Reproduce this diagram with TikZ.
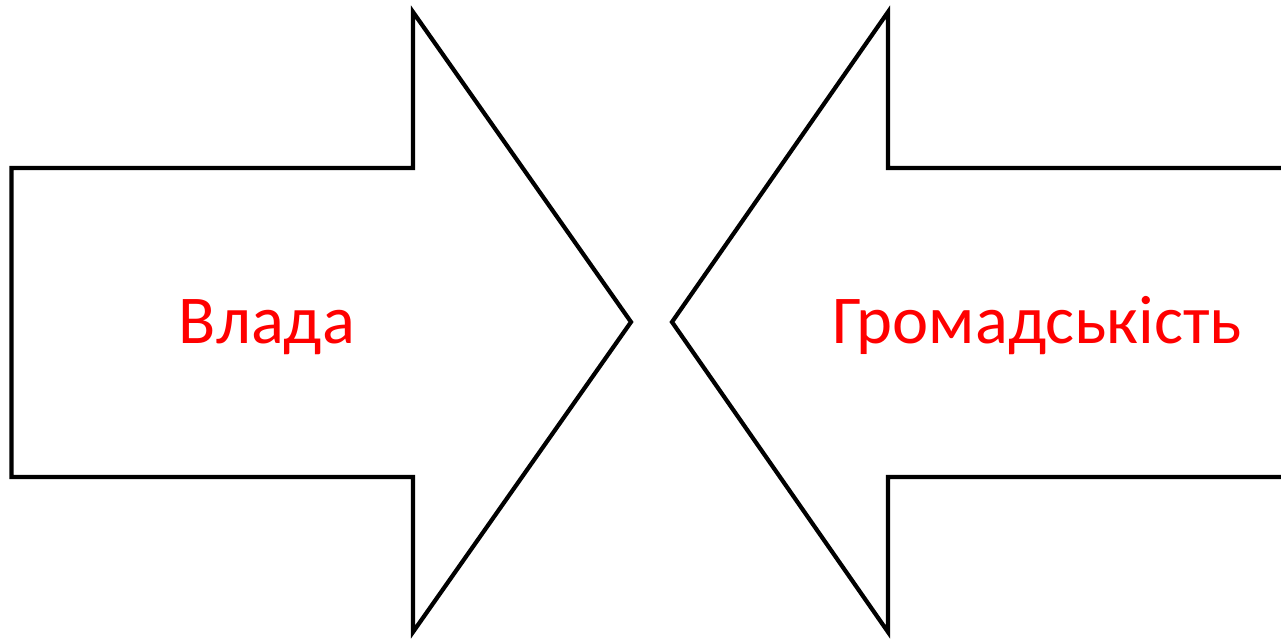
\documentclass[tikz,border=0pt]{standalone}
\usepackage{fontspec}
\setmainfont{Carlito}
\definecolor{lblred}{RGB}{255,0,0}
\begin{document}
\begin{tikzpicture}[x=1pt,y=-1pt,
  arrowshape/.style={draw=black,line width=4.2pt,fill=white,line join=miter},
  lbl/.style={text=lblred,font=\fontsize{68.5}{82}\selectfont,anchor=base,inner sep=0pt}]
\useasboundingbox (0,0) rectangle (1281,640);
\draw[arrowshape] (11.5,168) -- (413,168) -- (413,12) -- (631,322) -- (413,632) -- (413,477) -- (11.5,477) -- cycle;
\draw[arrowshape] (1295,168) -- (888,168) -- (888,12) -- (672,322) -- (888,632) -- (888,477) -- (1295,477);
\node[lbl] (vlada) at (267,343) {Влада};
\node[lbl] (hromada) at (1037,343) {Громадськість};
\end{tikzpicture}
\end{document}
